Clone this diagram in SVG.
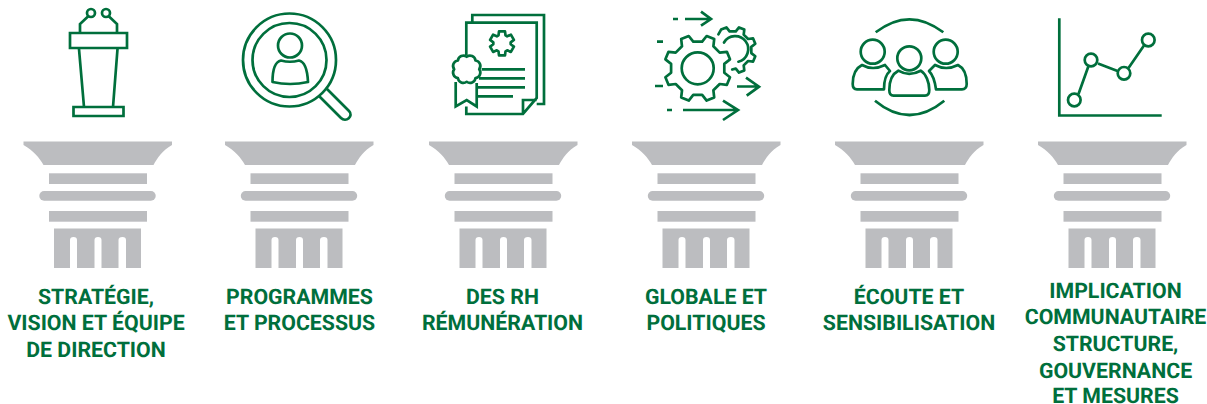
<svg xmlns="http://www.w3.org/2000/svg" width="1207" height="404" viewBox="0 0 1207 404">
<style>
.i{fill:none;stroke:#006f3c;stroke-width:2.7;stroke-linejoin:miter}
.r{stroke-linecap:round;stroke-linejoin:round}
.p{fill:#bcbdc0}
text{font-family:Roboto,"Liberation Sans",sans-serif;font-weight:700;font-size:21.3px;fill:#006f3c;text-anchor:middle;text-rendering:geometricPrecision}
</style>
<defs>
<g id="pillar">
<path class="p" d="M0 141.500H148.500V145C138.500 150.500 134 158 130 165H20C16 158 10 150.500 0 145Z"/>
<rect class="p" x="25.500" y="173.300" width="98" height="10.700"/>
<rect class="p" x="15.800" y="191" width="116.400" height="9.700" rx="4.800"/>
<rect class="p" x="25.500" y="211" width="98" height="10.700"/>
<path class="p" d="M30.500 228.500H117.500V268H102.500V240Q102.500 237 99 237Q95 237 95 240V268H78V240Q78 237 74.500 237Q71 237 71 240V268H53.500V240Q53.500 237 50 237Q46.500 237 46.500 240V268H30.500Z"/>
</g>
</defs>
<g id="node-strategie">
<use href="#pillar" x="23.500"/>
<path class="i" d="M70 33H127V48H70ZM79 49L84 107M117.500 49L113 107M73.500 107H123.500V116H73.500ZM80 33V24L88.500 16M117 33V24L108.500 16"/>
<circle class="i" cx="91" cy="13" r="4"/><circle class="i" cx="106" cy="13" r="4"/>
<text x="96" y="304">STRATÉGIE,</text><text x="96" y="330">VISION ET ÉQUIPE</text><text x="96" y="356.500">DE DIRECTION</text>
</g>
<g id="node-programmes">
<use href="#pillar" x="225"/>
<circle class="i" cx="289.500" cy="60" r="46.500"/><circle class="i" cx="289.500" cy="60" r="37"/><circle class="i" cx="290" cy="45.500" r="12"/>
<path class="i r" d="M272.500 82C272.500 72 274 62 281 60.500Q290 63 299 60.500C306 62 307.500 72 308 82Q290 86 272.500 82ZM319.500 96.500L341 118C346 123 354 116 349 111L327 89"/>
<text x="299.500" y="304">PROGRAMMES</text><text x="299.500" y="330">ET PROCESSUS</text>
</g>
<g id="node-remuneration">
<use href="#pillar" x="429"/>
<path class="i" d="M472.300 22V15H544V104H536.700M466.300 55V22.700H536.700V98L523 114H466.300V106.500M523 114V100H536.700"/>
<path class="i" d="M455.700 82V106.500L466.700 100L476.700 106.500V83M481.700 69.300H525M479 78.300H525M477.700 87.300H525M477.700 96.300H513"/>
<path class="i r" transform="translate(466.700 69.300)" d="M12.500 0A5.500 5.500 0 0 1 8.800 8.800A5.500 5.500 0 0 1 0 12.500A5.500 5.500 0 0 1 -8.800 8.800A5.500 5.500 0 0 1 -12.500 0A5.500 5.500 0 0 1 -8.800 -8.800A5.500 5.500 0 0 1 0 -12.500A5.500 5.500 0 0 1 8.800 -8.800A5.500 5.500 0 0 1 12.500 0Z"/>
<path class="i r" transform="translate(502 43.300)" d="M-3.500 -8L-3 -12H3L3.500 -8L5.180 -7.030L8.890 -8.600L11.890 -3.400L8.680 -.97V.97L11.890 3.400L8.890 8.600L5.180 7.030L3.500 8L3 12H-3L-3.500 8L-5.180 7.030L-8.890 8.600L-11.890 3.400L-8.680 .97V-.97L-11.890 -3.400L-8.890 -8.600L-5.180 -7.030Z"/>
<text x="502.500" y="304">DES RH</text><text x="502.500" y="330">RÉMUNÉRATION</text>
</g>
<g id="node-globale">
<use href="#pillar" x="632"/>
<circle class="i" cx="697.700" cy="68.300" r="16"/>
<path class="i r" transform="translate(697.700 68.300)" d="M26.600 4.460L32.300 8.950L29.200 16.500L22 15.700L15.700 22L16.500 29.200L8.950 32.300L4.460 26.600L-4.460 26.600L-8.950 32.300L-16.500 29.200L-15.700 22L-22 15.700L-29.200 16.500L-32.300 8.950L-26.600 4.460L-26.600 -4.460L-32.300 -8.950L-29.200 -16.500L-22 -15.700L-15.700 -22L-16.500 -29.200L-8.950 -32.300L-4.460 -26.600L4.460 -26.600L8.950 -32.300L16.500 -29.200L15.700 -22L22 -15.700L29.200 -16.500L32.300 -8.950L26.600 -4.460Z"/>
<path class="i r" transform="translate(732.700 50)" d="M-14.300 -15.700L-11.600 -20.400L-6.300 -22.600L-3.100 -18.600L3.100 -18.600L6.300 -22.600L11.600 -20.400L11 -15.400L15.400 -11L20.400 -11.600L22.600 -6.300L18.600 -3.100L18.600 3.100L22.600 6.300L20.400 11.600L15.400 11L11 15.400L11.600 20.400L6.300 22.600L3.100 18.600L-.5 19.500M-8.700 -7.500A13 13 0 1 1 5.700 11.700"/>
<path class="i" d="M685 19H710M701 11.700L711 19L701 25.700M673 19H678M657 41.700H663M655 86H663M737 86.500H758M746 77.700L759 86.700L746.700 95.700M667 110H672M683 110H737M723 100.700L738 110L723 120"/>
<text x="706" y="304">GLOBALE ET</text><text x="706" y="330">POLITIQUES</text>
</g>
<g id="node-ecoute">
<use href="#pillar" x="835"/>
<path class="i" d="M875.700 32.300Q909.300 6.300 943.300 32.300M875 100.700Q909.500 129.300 944.300 100.700"/>
<circle class="i" cx="872.700" cy="51.700" r="12"/><circle class="i" cx="909.300" cy="58.300" r="12"/><circle class="i" cx="945.700" cy="51.700" r="12"/>
<path class="i r" d="M862 65Q872.700 71 885 65L890 71C885 75 884 82 884 89.300H857C854 89.300 852.700 87 852.700 84C852.700 75 856 68 862 65ZM958 65Q946 71 935 65L929 71C933 75 935 82 936 89.300H962C965 89.300 966.700 87 966.700 84C966.700 75 964 68 958 65ZM898.300 70.700Q909 77 920.700 70.700C926 74 929.300 82 929.300 90C929.300 94 928 95.700 925 95.700H893.500C890.500 95.700 889.300 94 889.300 90C889.300 82 892 74 898.300 70.700Z"/>
<text x="909" y="304">ÉCOUTE ET</text><text x="909" y="330">SENSIBILISATION</text>
</g>
<g id="node-implication">
<use href="#pillar" x="1038"/>
<path class="i" d="M1059.300 18.300V115.500H1161.700M1078.500 94L1088.500 66M1098 63.500L1117.500 71M1128.500 68L1144 45.500"/>
<circle class="i" cx="1074.300" cy="100" r="6.300"/><circle class="i" cx="1091" cy="60" r="6.300"/><circle class="i" cx="1124" cy="73.300" r="6.300"/><circle class="i" cx="1148.300" cy="40" r="6.300"/>
<text x="1115.500" y="298">IMPLICATION</text><text x="1115.500" y="324.300">COMMUNAUTAIRE</text><text x="1115.500" y="351">STRUCTURE,</text><text x="1115.500" y="377.500">GOUVERNANCE</text><text x="1115.500" y="403">ET MESURES</text>
</g>
<g id="connectors"></g>
</svg>
